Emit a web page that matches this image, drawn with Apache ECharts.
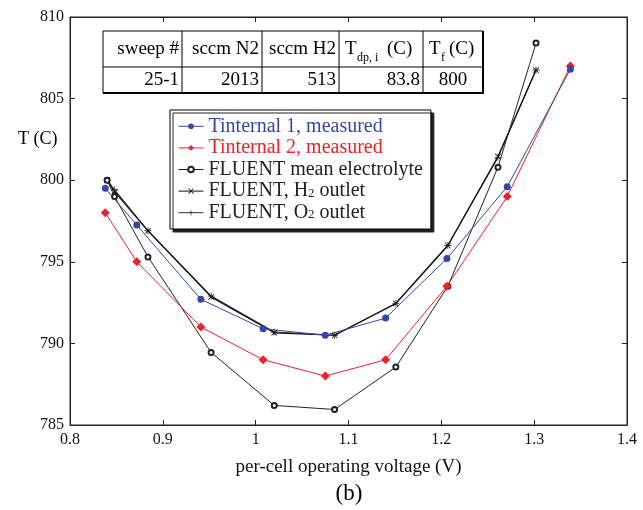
<!DOCTYPE html>
<html>
<head>
<meta charset="utf-8">
<script src="https://cdn.jsdelivr.net/npm/echarts@6/dist/echarts.min.js"></script>
<style>
  html, body { margin: 0; padding: 0; background: #fff; }
  #chart { width: 643px; height: 510px; }
</style>
</head>
<body>
<div id="chart"></div>
<script>
// measured points
var meas_x = [0.838, 0.872, 0.941, 1.008, 1.075, 1.140, 1.206, 1.271, 1.339];
var t1_meas = [799.5, 797.25, 792.7, 790.9, 790.5, 791.55, 795.2, 799.6, 806.8];
var t2_meas = [798.0, 795.0, 791.0, 789.0, 788.0, 789.0, 793.5, 799.0, 807.0];

// FLUENT points
var fl_x = [0.840, 0.848, 0.884, 0.952, 1.020, 1.085, 1.151, 1.207, 1.261, 1.302];
var fl_mean = [800.0, 799.0, 795.3, 789.45, 786.2, 785.95, 788.55, 793.5, 800.8, 808.4];
var fl_h2 = [800.0, 799.3, 796.9, 792.85, 790.65, 790.5, 792.45, 796.0, 801.45, 806.75];
var fl_o2 = [800.0, 799.4, 796.9, 792.9, 790.7, 790.5, 792.45, 796.0, 801.4, 806.75];

var names = ['Tinternal 1, measured', 'Tinternal 2, measured', 'FLUENT mean electrolyte',
  'FLUENT, H2 outlet', 'FLUENT, O2 outlet'];

// table in the corner
var tab_head = ['sweep #', 'sccm N2', 'sccm H2', 'T', 'T'];
var tab_sub = ['', '', '', 'dp, i', 'f'];
var tab_row = ['25-1', '2013', '513', '83.8', '800'];
var col_x = [103, 182, 262, 339, 423, 483];

function pairs(xs, ys) {
  var out = [];
  for (var i = 0; i < xs.length; i++) out.push([xs[i], ys[i]]);
  return out;
}

var FONT = '"Liberation Serif", "DejaVu Serif", serif';
var BLUE = '#3446a6';
var RED = '#ee2028';

var crossPath = 'path://M0,1L1,0L5,4L9,0L10,1L6,5L10,9L9,10L5,6L1,10L0,9L4,5Z';
var plusPath = 'path://M4.4,0H5.6V4.4H10V5.6H5.6V10H4.4V5.6H0V4.4H4.4Z';

// table graphics
var tab = [];
tab.push({ type: 'rect', shape: { x: 103, y: 31, width: 380, height: 62 },
  style: { fill: '#fff', stroke: '#000', lineWidth: 1 }, z: 10 });
tab.push({ type: 'line', shape: { x1: 103, y1: 93, x2: 484, y2: 93 }, style: { stroke: '#000', lineWidth: 2 }, z: 11 });
tab.push({ type: 'line', shape: { x1: 483, y1: 31, x2: 483, y2: 94 }, style: { stroke: '#000', lineWidth: 2 }, z: 11 });
tab.push({ type: 'line', shape: { x1: 103, y1: 67, x2: 483, y2: 67 }, style: { stroke: '#000', lineWidth: 1 }, z: 11 });
for (var c = 1; c < 5; c++) {
  tab.push({ type: 'line', shape: { x1: col_x[c], y1: 31, x2: col_x[c], y2: 93 }, style: { stroke: '#000', lineWidth: 1 }, z: 11 });
}
for (var c = 0; c < 5; c++) {
  if (tab_sub[c]) {
    var tx = col_x[c] + 6;
    var subW = tab_sub[c].length > 1 ? 28 : 6;
    tab.push({ type: 'text', z: 12, style: { x: tx, y: 49, text: 'T', font: '19px ' + FONT, fill: '#000', textVerticalAlign: 'middle' } });
    tab.push({ type: 'text', z: 12, style: { x: tx + 12, y: 58, text: tab_sub[c], font: '12px ' + FONT, fill: '#000', textVerticalAlign: 'middle' } });
    tab.push({ type: 'text', z: 12, style: { x: tx + 14 + subW, y: 49, text: '(C)', font: '19px ' + FONT, fill: '#000', textVerticalAlign: 'middle' } });
  } else {
    tab.push({ type: 'text', z: 12, style: { x: col_x[c + 1] - 3, y: 49, text: tab_head[c], font: '19px ' + FONT, fill: '#000', textAlign: 'right', textVerticalAlign: 'middle' } });
  }
  var al = c === 4 ? 'center' : 'right';
  var px = c === 4 ? (col_x[c] + col_x[c + 1]) / 2 : col_x[c + 1] - 3;
  tab.push({ type: 'text', z: 12, style: { x: px, y: 80, text: tab_row[c], font: '19px ' + FONT, fill: '#000', textAlign: al, textVerticalAlign: 'middle' } });
}
tab.push({ type: 'text', style: { x: 18, y: 139, text: 'T (C)', font: '18px ' + FONT, fill: '#000', textVerticalAlign: 'middle' } });
tab.push({ type: 'text', style: { x: 349, y: 494, text: '(b)', font: '23px ' + FONT, fill: '#000', textAlign: 'center', textVerticalAlign: 'middle' } });

var chart = echarts.init(document.getElementById('chart'));
var option = {
  backgroundColor: '#fff',
  animation: false,
  textStyle: { fontFamily: FONT },
  grid: { left: 70, right: 16, top: 17, bottom: 85, show: true, borderColor: '#222', borderWidth: 1 },
  legend: {
    orient: 'vertical', left: 170, top: 110,
    padding: [6, 8, 6, 8],
    backgroundColor: '#fff', borderColor: '#000', borderWidth: 1,
    shadowColor: '#222', shadowOffsetX: 3, shadowOffsetY: 3, shadowBlur: 0,
    itemWidth: 25, itemHeight: 7, itemGap: 1,
    lineStyle: { width: 1 },
    textStyle: { fontFamily: FONT, fontSize: 20, color: '#222', lineHeight: 20.6,
      rich: {
        a: { fontFamily: FONT, fontSize: 20, color: '#222' },
        s: { fontFamily: FONT, fontSize: 13, color: '#222', padding: [4, 0, 0, 0] }
      } },
    formatter: function (n) {
      if (n === names[3]) return '{a|FLUENT, H}{s|2}{a| outlet}';
      if (n === names[4]) return '{a|FLUENT, O}{s|2}{a| outlet}';
      return n;
    },
    data: [
      { name: names[0], textStyle: { color: BLUE } },
      { name: names[1], textStyle: { color: RED } },
      { name: names[2] },
      { name: names[3] },
      { name: names[4] }
    ]
  },
  xAxis: [{
    type: 'value', min: 0.8, max: 1.4, interval: 0.1,
    name: 'per-cell operating voltage (V)', nameLocation: 'middle', nameGap: 33,
    nameTextStyle: { fontFamily: FONT, fontSize: 19, color: '#111' },
    axisLine: { lineStyle: { color: '#222' } },
    axisTick: { inside: true, length: 5, lineStyle: { color: '#222' } },
    axisLabel: { fontFamily: FONT, fontSize: 16, color: '#111', margin: 7,
      formatter: function (v) { return String(+v.toFixed(1)); } },
    splitLine: { show: false }
  }, {
    type: 'value', position: 'top', min: 0.8, max: 1.4, interval: 0.1,
    axisLine: { show: true, lineStyle: { color: '#222' } },
    axisTick: { inside: true, length: 5, lineStyle: { color: '#222' } },
    axisLabel: { show: false }, splitLine: { show: false }
  }],
  yAxis: [{
    type: 'value', min: 785, max: 810, interval: 5,
    axisLine: { show: true, lineStyle: { color: '#222' } },
    axisTick: { show: true, inside: true, length: 5, lineStyle: { color: '#222' } },
    axisLabel: { fontFamily: FONT, fontSize: 16, color: '#111', margin: 6 },
    splitLine: { show: false }
  }, {
    type: 'value', position: 'right', min: 785, max: 810, interval: 5,
    axisLine: { show: true, lineStyle: { color: '#222' } },
    axisTick: { show: true, inside: true, length: 5, lineStyle: { color: '#222' } },
    axisLabel: { show: false }, splitLine: { show: false }
  }],
  series: [
    { name: names[4], type: 'line', data: pairs(fl_x, fl_o2), symbol: plusPath, symbolSize: 7,
      lineStyle: { color: '#333', width: 1.2 }, itemStyle: { color: '#333' } },
    { name: names[3], type: 'line', data: pairs(fl_x, fl_h2), symbol: crossPath, symbolSize: 6,
      lineStyle: { color: '#111', width: 1.2 }, itemStyle: { color: '#111' } },
    { name: names[2], type: 'line', data: pairs(fl_x, fl_mean), symbol: 'emptyCircle', symbolSize: 5,
      lineStyle: { color: '#222', width: 1 }, itemStyle: { color: '#222', borderWidth: 0.8 } },
    { name: names[1], type: 'line', data: pairs(meas_x, t2_meas), symbol: 'diamond', symbolSize: 9,
      lineStyle: { color: RED, width: 1 }, itemStyle: { color: RED } },
    { name: names[0], type: 'line', data: pairs(meas_x, t1_meas), symbol: 'circle', symbolSize: 7,
      lineStyle: { color: BLUE, width: 1 }, itemStyle: { color: BLUE } }
  ],
  graphic: tab
};
chart.setOption(option);
</script>
</body>
</html>
